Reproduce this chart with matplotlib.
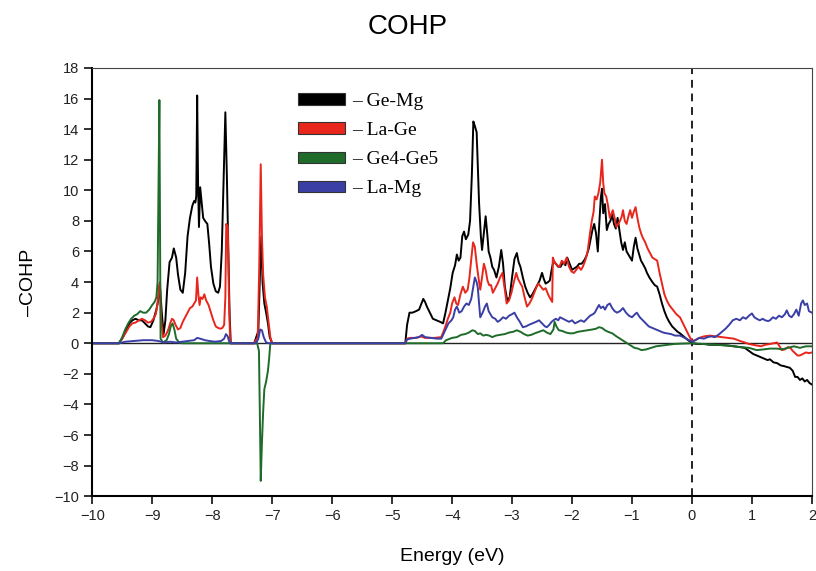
import numpy as np
import matplotlib
matplotlib.use('Agg')
import matplotlib.pyplot as plt
from matplotlib.patches import Patch

plt.rcParams['font.family'] = ['Liberation Sans', 'DejaVu Sans']

# energy (eV), -COHP pairs
ge_mg = [(-10, 0), (-9.56, 0), (-9.5, 0.3), (-9.44, 0.8), (-9.38, 1.3), (-9.33, 1.5), (-9.28, 1.6), (-9.22, 1.5),
         (-9.17, 1.5), (-9.12, 1.3), (-9.07, 1.1), (-9.03, 1.05), (-8.98, 1.5), (-8.93, 2.2), (-8.89, 3.0), (-8.87, 3.7),
         (-8.84, 2.0), (-8.81, 0.6), (-8.78, 1.5), (-8.75, 3.5), (-8.71, 5.3), (-8.67, 5.6), (-8.64, 6.2), (-8.6, 5.6),
         (-8.57, 4.5), (-8.53, 3.5), (-8.49, 3.3), (-8.45, 4.6), (-8.41, 7.0), (-8.37, 8.2), (-8.33, 9.0), (-8.3, 9.3),
         (-8.28, 9.2), (-8.265, 9.6), (-8.25, 16.2), (-8.235, 10.5), (-8.22, 7.6), (-8.2, 10.2), (-8.18, 9.4),
         (-8.15, 8.2), (-8.12, 8.0), (-8.08, 7.8), (-8.05, 6.5), (-8.02, 5.0), (-7.98, 3.9), (-7.94, 3.4), (-7.9, 3.3),
         (-7.87, 3.7), (-7.84, 6.0), (-7.81, 10.5), (-7.78, 15.1), (-7.755, 11.0), (-7.73, 6.0), (-7.71, 2.0),
         (-7.69, 0), (-7.3, 0), (-7.23, 0.8), (-7.2, 5.0), (-7.18, 7.0), (-7.16, 4.0), (-7.13, 2.6), (-7.1, 2.0),
         (-7.07, 1.3), (-7.04, 0.4), (-7.0, 0), (-4.78, 0), (-4.75, 1.2), (-4.71, 2.0), (-4.66, 2.0), (-4.6, 2.1),
         (-4.55, 2.2), (-4.51, 2.6), (-4.48, 2.9), (-4.45, 2.7), (-4.42, 2.4), (-4.37, 2.0), (-4.32, 1.6), (-4.26, 1.5),
         (-4.2, 1.4), (-4.15, 1.3), (-4.11, 2.0), (-4.07, 2.8), (-4.03, 3.6), (-3.99, 4.6), (-3.95, 5.1), (-3.92, 5.8),
         (-3.89, 5.4), (-3.86, 5.6), (-3.83, 7.0), (-3.8, 7.3), (-3.77, 6.8), (-3.73, 7.1), (-3.7, 8.0), (-3.67, 11.0),
         (-3.645, 14.5), (-3.62, 14.2), (-3.59, 13.8), (-3.57, 11.5), (-3.55, 9.2), (-3.52, 7.0), (-3.5, 6.1),
         (-3.47, 7.2), (-3.44, 8.3), (-3.41, 7.0), (-3.39, 6.0), (-3.36, 5.6), (-3.33, 5.0), (-3.3, 4.8), (-3.26, 4.3),
         (-3.22, 5.0), (-3.18, 6.1), (-3.15, 5.2), (-3.12, 3.7), (-3.08, 2.8), (-3.04, 3.0), (-3.0, 4.3), (-2.96, 5.5),
         (-2.92, 5.9), (-2.89, 5.3), (-2.86, 5.0), (-2.82, 4.3), (-2.78, 3.7), (-2.74, 3.3), (-2.7, 3.0), (-2.66, 3.2),
         (-2.62, 3.5), (-2.58, 3.8), (-2.54, 4.1), (-2.5, 4.6), (-2.47, 4.2), (-2.44, 3.9), (-2.4, 4.0), (-2.37, 4.1),
         (-2.34, 4.8), (-2.31, 5.4), (-2.27, 5.2), (-2.23, 5.0), (-2.19, 5.0), (-2.15, 5.3), (-2.11, 5.1), (-2.08, 5.6),
         (-2.04, 5.2), (-2.0, 4.8), (-1.96, 4.9), (-1.92, 5.0), (-1.88, 5.2), (-1.84, 5.2), (-1.8, 5.4), (-1.76, 5.7),
         (-1.72, 6.2), (-1.69, 6.8), (-1.66, 7.4), (-1.63, 7.8), (-1.6, 7.2), (-1.57, 6.0), (-1.55, 7.5), (-1.52, 9.5),
         (-1.5, 10.1), (-1.48, 8.5), (-1.45, 9.1), (-1.42, 7.4), (-1.39, 7.8), (-1.36, 8.0), (-1.33, 8.4), (-1.3, 7.8),
         (-1.27, 7.5), (-1.24, 8.2), (-1.21, 7.4), (-1.18, 6.6), (-1.15, 6.1), (-1.12, 6.6), (-1.09, 6.0), (-1.06, 5.8),
         (-1.03, 5.6), (-1.0, 5.4), (-0.97, 6.3), (-0.94, 6.9), (-0.91, 6.2), (-0.88, 5.8), (-0.85, 5.4), (-0.82, 5.2),
         (-0.78, 4.9), (-0.75, 4.6), (-0.71, 4.3), (-0.66, 4.0), (-0.62, 3.8), (-0.58, 3.7), (-0.54, 3.2), (-0.5, 2.6),
         (-0.46, 2.1), (-0.42, 1.7), (-0.38, 1.4), (-0.33, 1.1), (-0.28, 0.9), (-0.24, 0.75), (-0.2, 0.65),
         (-0.14, 0.45), (-0.08, 0.25), (-0.03, 0.1), (0.0, 0.0), (0.1, -0.05), (0.2, -0.05), (0.3, -0.1), (0.4, -0.1),
         (0.5, -0.12), (0.6, -0.15), (0.7, -0.2), (0.8, -0.25), (0.88, -0.3), (0.95, -0.5), (1.02, -0.7), (1.08, -0.8),
         (1.14, -0.9), (1.2, -1.0), (1.26, -1.1), (1.3, -1.05), (1.36, -1.25), (1.42, -1.3), (1.48, -1.45),
         (1.54, -1.5), (1.58, -1.55), (1.63, -1.6), (1.68, -1.8), (1.72, -2.2), (1.76, -2.2), (1.8, -2.4),
         (1.84, -2.3), (1.88, -2.5), (1.92, -2.4), (1.96, -2.6), (2.0, -2.7)]

la_ge = [(-10, 0), (-9.55, 0), (-9.5, 0.3), (-9.44, 0.7), (-9.38, 1.1), (-9.33, 1.3), (-9.28, 1.35), (-9.22, 1.5),
         (-9.17, 1.6), (-9.12, 1.5), (-9.07, 1.35), (-9.02, 1.4), (-8.98, 1.6), (-8.94, 1.9), (-8.91, 2.6),
         (-8.89, 3.7), (-8.87, 4.0), (-8.85, 1.5), (-8.82, 0.4), (-8.78, 0.5), (-8.74, 0.8), (-8.7, 1.3), (-8.67, 1.6),
         (-8.64, 1.5), (-8.61, 1.2), (-8.57, 0.9), (-8.53, 1.0), (-8.49, 1.4), (-8.45, 1.7), (-8.41, 2.0),
         (-8.37, 2.3), (-8.33, 2.4), (-8.3, 2.6), (-8.27, 2.8), (-8.25, 4.3), (-8.23, 3.2), (-8.21, 2.5), (-8.19, 3.0),
         (-8.16, 2.9), (-8.13, 3.2), (-8.1, 2.8), (-8.06, 2.5), (-8.02, 2.0), (-7.98, 1.5), (-7.94, 1.1), (-7.9, 1.0),
         (-7.86, 0.95), (-7.83, 1.0), (-7.8, 1.2), (-7.78, 3.0), (-7.765, 7.8), (-7.74, 7.6), (-7.72, 3.0),
         (-7.7, 0), (-7.3, 0), (-7.24, 0.4), (-7.215, 5.0), (-7.19, 11.7), (-7.17, 7.0), (-7.15, 4.5), (-7.12, 3.0),
         (-7.09, 2.4), (-7.06, 1.4), (-7.03, 0.4), (-7.0, 0), (-4.78, 0), (-4.75, 0.3), (-4.7, 0.35), (-4.6, 0.35),
         (-4.52, 0.45), (-4.45, 0.35), (-4.3, 0.35), (-4.18, 0.4), (-4.12, 1.0), (-4.07, 1.6), (-4.03, 2.0),
         (-4.0, 2.6), (-3.96, 3.0), (-3.93, 2.6), (-3.9, 2.5), (-3.86, 3.2), (-3.82, 3.7), (-3.78, 3.3), (-3.74, 3.5),
         (-3.71, 4.3), (-3.68, 5.5), (-3.65, 6.6), (-3.62, 6.3), (-3.59, 5.2), (-3.56, 4.3), (-3.53, 3.5),
         (-3.5, 4.3), (-3.47, 5.2), (-3.44, 4.8), (-3.41, 4.1), (-3.38, 3.8), (-3.35, 3.8), (-3.32, 3.3),
         (-3.28, 3.6), (-3.24, 3.9), (-3.2, 4.3), (-3.16, 4.6), (-3.12, 3.5), (-3.09, 2.6), (-3.05, 2.8), (-3.01, 3.3),
         (-2.97, 4.0), (-2.93, 4.6), (-2.9, 4.2), (-2.86, 3.9), (-2.83, 3.7), (-2.79, 3.0), (-2.75, 2.4),
         (-2.71, 2.6), (-2.67, 2.9), (-2.63, 3.3), (-2.59, 3.7), (-2.56, 3.9), (-2.52, 3.7), (-2.48, 3.5),
         (-2.44, 3.6), (-2.4, 3.2), (-2.36, 2.9), (-2.33, 2.7), (-2.32, 5.6), (-2.29, 5.3), (-2.25, 5.1),
         (-2.21, 5.0), (-2.17, 5.4), (-2.13, 5.2), (-2.09, 5.6), (-2.05, 5.0), (-2.01, 4.7), (-1.97, 4.6),
         (-1.93, 4.8), (-1.89, 5.0), (-1.85, 4.8), (-1.82, 5.0), (-1.78, 5.4), (-1.74, 6.0), (-1.7, 7.2),
         (-1.67, 8.0), (-1.64, 8.6), (-1.62, 9.6), (-1.59, 9.4), (-1.56, 9.8), (-1.53, 10.5), (-1.5, 12.0),
         (-1.48, 10.5), (-1.46, 9.8), (-1.43, 9.6), (-1.4, 9.0), (-1.37, 8.2), (-1.34, 8.5), (-1.32, 8.7),
         (-1.29, 8.2), (-1.26, 7.6), (-1.23, 7.8), (-1.2, 8.0), (-1.17, 8.3), (-1.15, 8.7), (-1.12, 8.0),
         (-1.09, 7.8), (-1.06, 8.3), (-1.03, 8.7), (-1.0, 8.2), (-0.97, 8.6), (-0.94, 8.9), (-0.91, 8.2),
         (-0.88, 7.6), (-0.85, 7.2), (-0.82, 6.9), (-0.78, 6.6), (-0.74, 6.2), (-0.7, 5.9), (-0.66, 5.6),
         (-0.62, 5.5), (-0.58, 5.4), (-0.54, 4.6), (-0.5, 3.9), (-0.46, 3.2), (-0.42, 2.8), (-0.38, 2.5),
         (-0.34, 2.3), (-0.3, 2.1), (-0.26, 1.9), (-0.2, 1.7), (-0.15, 1.3), (-0.1, 0.9), (-0.05, 0.5), (0.0, 0.15),
         (0.05, 0.2), (0.12, 0.35), (0.2, 0.45), (0.3, 0.5), (0.4, 0.45), (0.5, 0.4), (0.6, 0.35), (0.7, 0.3),
         (0.8, 0.15), (0.88, 0.05), (0.95, -0.05), (1.02, -0.1), (1.08, -0.15), (1.15, -0.2), (1.22, -0.1),
         (1.3, -0.05), (1.36, 0.0), (1.42, 0.05), (1.46, -0.2), (1.5, -0.45), (1.55, -0.4), (1.6, -0.25),
         (1.64, -0.3), (1.68, -0.5), (1.72, -0.65), (1.76, -0.8), (1.8, -0.8), (1.85, -0.7), (1.9, -0.6),
         (1.95, -0.65), (2.0, -0.6)]

ge4_ge5 = [(-10, 0), (-9.55, 0), (-9.5, 0.4), (-9.45, 0.9), (-9.4, 1.3), (-9.35, 1.6), (-9.3, 1.8), (-9.25, 1.9),
           (-9.2, 2.1), (-9.15, 2.0), (-9.1, 2.0), (-9.05, 2.2), (-9.0, 2.5), (-8.96, 2.7), (-8.93, 3.0),
           (-8.91, 4.0), (-8.895, 10.0), (-8.88, 15.9), (-8.87, 8.0), (-8.86, 0.3), (-8.82, 0.05), (-8.76, 0.2),
           (-8.72, 0.6), (-8.69, 1.1), (-8.66, 1.3), (-8.63, 0.9), (-8.6, 0.3), (-8.55, 0.05), (-8.5, 0), (-7.7, 0),
           (-7.25, 0), (-7.22, -0.5), (-7.205, -4.5), (-7.19, -9.0), (-7.17, -6.5), (-7.15, -4.5), (-7.13, -3.0),
           (-7.1, -2.5), (-7.07, -1.8), (-7.05, -1.0), (-7.03, 0), (-4.15, 0), (-4.1, 0.2), (-4.0, 0.35),
           (-3.92, 0.4), (-3.85, 0.55), (-3.78, 0.6), (-3.72, 0.7), (-3.66, 0.85), (-3.62, 0.8), (-3.57, 0.6),
           (-3.53, 0.65), (-3.48, 0.5), (-3.43, 0.55), (-3.38, 0.5), (-3.33, 0.4), (-3.27, 0.5), (-3.2, 0.55),
           (-3.12, 0.6), (-3.05, 0.7), (-2.98, 0.75), (-2.92, 0.85), (-2.86, 0.75), (-2.8, 0.6), (-2.74, 0.5),
           (-2.68, 0.55), (-2.62, 0.65), (-2.55, 0.75), (-2.48, 0.85), (-2.42, 0.7), (-2.36, 0.6), (-2.31, 0.9),
           (-2.29, 1.4), (-2.26, 1.1), (-2.22, 0.85), (-2.16, 0.8), (-2.1, 0.7), (-2.04, 0.65), (-1.98, 0.65),
           (-1.9, 0.75), (-1.82, 0.8), (-1.74, 0.85), (-1.66, 0.9), (-1.6, 0.95), (-1.55, 1.05), (-1.5, 1.0),
           (-1.45, 0.85), (-1.4, 0.75), (-1.33, 0.65), (-1.26, 0.45), (-1.2, 0.3), (-1.14, 0.15), (-1.08, 0.0),
           (-1.02, -0.15), (-0.96, -0.3), (-0.9, -0.35), (-0.84, -0.45), (-0.76, -0.4), (-0.68, -0.3), (-0.6, -0.2),
           (-0.5, -0.15), (-0.4, -0.1), (-0.3, -0.05), (-0.15, -0.02), (0.0, 0.0), (0.2, -0.05), (0.4, -0.1),
           (0.6, -0.15), (0.8, -0.25), (0.95, -0.3), (1.08, -0.45), (1.2, -0.4), (1.3, -0.35), (1.42, -0.35),
           (1.5, -0.4), (1.6, -0.3), (1.7, -0.2), (1.8, -0.3), (1.9, -0.2), (2.0, -0.2)]

la_mg = [(-10, 0), (-9.55, 0), (-9.45, 0.1), (-9.3, 0.15), (-9.15, 0.2), (-9.0, 0.2), (-8.9, 0.15), (-8.8, 0.05),
         (-8.7, 0.1), (-8.6, 0.05), (-8.5, 0.1), (-8.4, 0.15), (-8.3, 0.2), (-8.25, 0.35), (-8.2, 0.3), (-8.12, 0.2),
         (-8.05, 0.15), (-7.95, 0.1), (-7.85, 0.15), (-7.8, 0.3), (-7.77, 0.6), (-7.74, 0.45), (-7.72, 0.15),
         (-7.7, 0), (-7.27, 0), (-7.23, 0.3), (-7.2, 0.9), (-7.17, 0.85), (-7.14, 0.4), (-7.1, 0.05), (-7.05, 0),
         (-4.78, 0), (-4.75, 0.25), (-4.7, 0.3), (-4.62, 0.35), (-4.55, 0.4), (-4.5, 0.55), (-4.45, 0.4),
         (-4.35, 0.35), (-4.25, 0.3), (-4.18, 0.3), (-4.12, 0.8), (-4.06, 1.3), (-4.01, 1.5), (-3.98, 1.7),
         (-3.95, 2.2), (-3.92, 2.4), (-3.88, 2.0), (-3.84, 2.1), (-3.8, 2.4), (-3.76, 2.6), (-3.72, 2.5),
         (-3.68, 2.9), (-3.65, 3.6), (-3.62, 4.3), (-3.59, 4.0), (-3.57, 3.6), (-3.55, 2.6), (-3.53, 1.7),
         (-3.49, 2.0), (-3.45, 2.4), (-3.42, 2.6), (-3.39, 2.1), (-3.36, 1.9), (-3.33, 1.7), (-3.28, 1.6),
         (-3.24, 1.4), (-3.2, 1.5), (-3.15, 1.7), (-3.1, 1.6), (-3.05, 1.8), (-3.0, 1.9), (-2.96, 2.0),
         (-2.92, 1.7), (-2.87, 1.4), (-2.82, 1.05), (-2.77, 1.1), (-2.72, 1.2), (-2.66, 1.3), (-2.6, 1.4),
         (-2.55, 1.5), (-2.5, 1.3), (-2.45, 1.1), (-2.42, 1.05), (-2.38, 1.2), (-2.34, 1.4), (-2.31, 1.5),
         (-2.27, 1.6), (-2.23, 1.5), (-2.2, 1.7), (-2.15, 1.6), (-2.1, 1.5), (-2.05, 1.4), (-2.0, 1.5),
         (-1.95, 1.3), (-1.9, 1.4), (-1.85, 1.5), (-1.8, 1.4), (-1.75, 1.6), (-1.7, 1.8), (-1.65, 1.9),
         (-1.62, 2.0), (-1.58, 2.3), (-1.55, 2.5), (-1.52, 2.3), (-1.48, 2.4), (-1.45, 2.2), (-1.41, 2.5),
         (-1.37, 2.6), (-1.33, 2.3), (-1.29, 2.1), (-1.25, 2.0), (-1.2, 2.1), (-1.15, 2.3), (-1.1, 2.0),
         (-1.05, 1.8), (-1.0, 1.7), (-0.95, 1.9), (-0.92, 2.0), (-0.87, 1.7), (-0.82, 1.5), (-0.77, 1.3),
         (-0.72, 1.1), (-0.66, 1.0), (-0.6, 0.9), (-0.54, 0.8), (-0.48, 0.7), (-0.42, 0.65), (-0.35, 0.6),
         (-0.28, 0.5), (-0.2, 0.5), (-0.12, 0.35), (-0.05, 0.2), (0.0, 0.1), (0.06, 0.2), (0.12, 0.35), (0.2, 0.3),
         (0.26, 0.4), (0.32, 0.45), (0.38, 0.4), (0.44, 0.55), (0.5, 0.75), (0.56, 0.95), (0.62, 1.2), (0.68, 1.5),
         (0.74, 1.6), (0.8, 1.5), (0.85, 1.7), (0.9, 1.6), (0.95, 1.8), (1.0, 1.95), (1.04, 1.7), (1.08, 1.6),
         (1.13, 1.5), (1.18, 1.6), (1.22, 1.5), (1.27, 1.45), (1.3, 1.5), (1.35, 1.7), (1.4, 1.6), (1.45, 1.8),
         (1.5, 1.7), (1.55, 1.9), (1.58, 2.15), (1.62, 1.8), (1.66, 1.7), (1.7, 1.9), (1.74, 2.2), (1.78, 1.8),
         (1.82, 2.6), (1.85, 2.8), (1.88, 2.5), (1.92, 2.6), (1.95, 2.1), (2.0, 2.0)]

labels = ['\u2013 Ge-Mg', '\u2013 La-Ge', '\u2013 Ge4-Ge5', '\u2013 La-Mg']
colors = ['#000000', '#e8261c', '#1f6b2a', '#3a3fa6']
series = [ge_mg, la_ge, ge4_ge5, la_mg]

fig = plt.figure(figsize=(8.16, 5.71), dpi=100)
ax = fig.add_axes([0.113, 0.131, 0.882, 0.75])

ax.axhline(0, color='#222222', lw=1.0, zorder=1)
ax.axvline(0, color='#222222', lw=1.4, ls=(0, (4, 3)), zorder=1)

for data, c in zip(series, colors):
    arr = np.array(data)
    ax.plot(arr[:, 0], arr[:, 1], color=c, lw=1.4, zorder=2)

ax.set_xlim(-10, 2)
ax.set_ylim(-10, 18)
ax.set_xticks(np.arange(-10, 3, 1))
ax.set_yticks(np.arange(-10, 19, 2))
ax.set_xticklabels([str(v).replace('-', '\u2212') for v in range(-10, 3)])
ax.set_yticklabels([str(v).replace('-', '\u2212') for v in range(-10, 19, 2)])
ax.tick_params(direction='out', length=6, width=1.3, labelsize=10.5, colors='#222222')
for s in ['left', 'bottom']:
    ax.spines[s].set_linewidth(1.5)
for s in ['top', 'right']:
    ax.spines[s].set_linewidth(0.8)
    ax.spines[s].set_color('#444444')

ax.set_xlabel('Energy (eV)', fontsize=14, labelpad=18)
ax.set_ylabel('\u2013COHP', fontsize=14, labelpad=12)
fig.suptitle('COHP', fontsize=20, y=0.975)

handles = [Patch(facecolor=c, edgecolor='#333333', lw=0.8) for c in colors]
ax.legend(handles, labels, loc='upper left', bbox_to_anchor=(0.262, 0.982), frameon=False,
          prop={'family': 'Liberation Serif', 'size': 14}, handlelength=2.4, handleheight=0.55,
          handletextpad=0.35, labelspacing=0.62)

fig.savefig('out.png', dpi=100)
